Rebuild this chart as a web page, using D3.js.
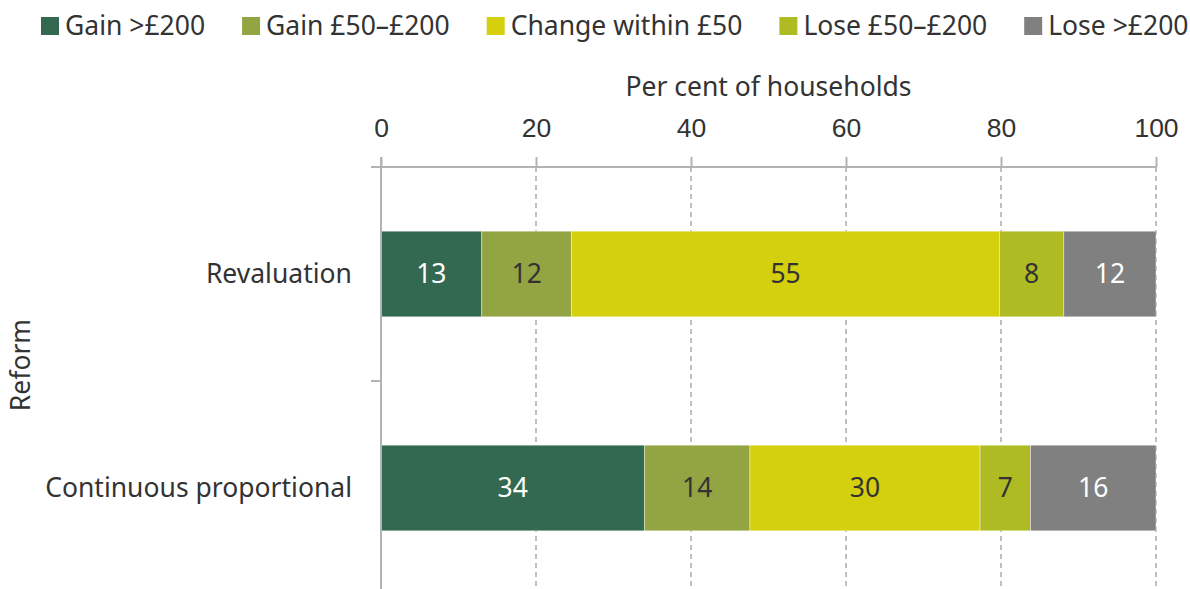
<!DOCTYPE html>
<html>
<head>
<meta charset="utf-8">
<script src="https://cdn.jsdelivr.net/npm/d3@7"></script>
<style>
  body { margin: 0; background: #fff; }
  svg { display: block; font-family: "Noto Sans", "Open Sans", sans-serif; }
</style>
</head>
<body>
<svg id="chart"></svg>
<script>
// data
const reforms = ["Revaluation", "Continuous proportional"];
const groups = ["Gain >£200", "Gain £50–£200", "Change within £50", "Lose £50–£200", "Lose >£200"];
const revaluation = [13.0, 11.6, 55.2, 8.3, 11.9];
const continuous = [34.0, 13.6, 29.7, 6.5, 16.2];
const xTicks = [0, 20, 40, 60, 80, 100];

const colors = ["#336950", "#93a443", "#d4d00d", "#aebb23", "#808080"];
const labelColors = ["#fff", "#333", "#333", "#333", "#fff"];

const width = 1190;
const height = 589;
const fontSize = 26.5;
const textColor = "#333";
const axisColor = "#b3b3b3";

const svg = d3.select("#chart")
    .attr("width", width)
    .attr("height", height);

const x = d3.scaleLinear()
    .domain([0, 100])
    .range([381, 1156]);

const y = d3.scaleBand()
    .domain(reforms)
    .range([167, 595])
    .paddingInner(0.6)
    .paddingOuter(0.3);

// stack the rows
const rows = reforms.map((r, i) => {
    const vals = i === 0 ? revaluation : continuous;
    let acc = 0;
    return vals.map((v, j) => {
        const seg = { reform: r, group: groups[j], idx: j, x0: acc, x1: acc + v, value: v };
        acc += v;
        return seg;
    });
});

// dashed gridlines
svg.append("g")
    .selectAll("line")
    .data(xTicks.slice(1))
    .enter()
    .append("line")
    .attr("x1", d => x(d))
    .attr("x2", d => x(d))
    .attr("y1", 167)
    .attr("y2", height)
    .attr("stroke", "#aaa")
    .attr("stroke-width", 1.5)
    .attr("stroke-dasharray", "5 4");

// bars
const rowG = svg.selectAll(".row")
    .data(rows)
    .enter()
    .append("g")
    .attr("class", "row");

rowG.selectAll("rect")
    .data(d => d)
    .enter()
    .append("rect")
    .attr("x", d => x(d.x0))
    .attr("y", d => y(d.reform))
    .attr("width", d => x(d.x1) - x(d.x0))
    .attr("height", y.bandwidth())
    .attr("fill", d => colors[d.idx])
    .attr("stroke", "rgba(255,255,255,0.5)")
    .attr("stroke-width", 0.8);

rowG.selectAll("text")
    .data(d => d)
    .enter()
    .append("text")
    .attr("x", d => (x(d.x0) + x(d.x1)) / 2)
    .attr("y", d => y(d.reform) + y.bandwidth() / 2)
    .attr("dy", "0.35em")
    .attr("text-anchor", "middle")
    .style("font-size", fontSize + "px")
    .style("fill", d => labelColors[d.idx])
    .text(d => Math.round(d.value));

// top x axis
const xAxis = svg.append("g")
    .attr("transform", "translate(0,167)")
    .call(d3.axisTop(x).tickValues(xTicks).tickSize(10).tickPadding(20));
xAxis.select(".domain").remove();
xAxis.selectAll(".tick line").attr("stroke", axisColor).attr("stroke-width", 2);
xAxis.selectAll(".tick text")
    .style("font-size", fontSize + "px")
    .style("font-family", "inherit")
    .style("fill", textColor);

svg.append("line")
    .attr("x1", 371)
    .attr("x2", x(100))
    .attr("y1", 167)
    .attr("y2", 167)
    .attr("stroke", axisColor)
    .attr("stroke-width", 2);

// left y axis line and band boundary ticks
svg.append("line")
    .attr("x1", x(0))
    .attr("x2", x(0))
    .attr("y1", 157)
    .attr("y2", height)
    .attr("stroke", axisColor)
    .attr("stroke-width", 2);

svg.append("g")
    .selectAll("line")
    .data(d3.range(reforms.length + 1))
    .enter()
    .append("line")
    .attr("x1", x(0) - 10)
    .attr("x2", x(0))
    .attr("y1", i => y.range()[0] + i * y.step())
    .attr("y2", i => y.range()[0] + i * y.step())
    .attr("stroke", axisColor)
    .attr("stroke-width", 2);

// category labels
svg.append("g")
    .selectAll("text")
    .data(reforms)
    .enter()
    .append("text")
    .attr("x", 352)
    .attr("y", d => y(d) + y.bandwidth() / 2)
    .attr("dy", "0.35em")
    .attr("text-anchor", "end")
    .style("font-size", fontSize + "px")
    .style("fill", textColor)
    .text(d => d);

// axis titles
svg.append("text")
    .attr("x", (x(0) + x(100)) / 2)
    .attr("y", 87)
    .attr("dy", "0.35em")
    .attr("text-anchor", "middle")
    .style("font-size", fontSize + "px")
    .style("fill", textColor)
    .text("Per cent of households");

svg.append("text")
    .attr("transform", "translate(21,365) rotate(-90)")
    .attr("dy", "0.35em")
    .attr("text-anchor", "middle")
    .style("font-size", fontSize + "px")
    .style("fill", textColor)
    .text("Reform");

// legend
const legend = svg.append("g").attr("transform", "translate(41,26)");
let lx = 0;
groups.forEach((g, i) => {
    const item = legend.append("g").attr("transform", `translate(${lx},0)`);
    item.append("rect")
        .attr("x", 0)
        .attr("y", -9)
        .attr("width", 18)
        .attr("height", 18)
        .attr("fill", colors[i]);
    const t = item.append("text")
        .attr("x", 24)
        .attr("dy", "0.35em")
        .style("font-size", fontSize + "px")
        .style("fill", textColor)
        .text(g);
    lx += 24 + t.node().getComputedTextLength() + 37;
});
</script>
</body>
</html>
